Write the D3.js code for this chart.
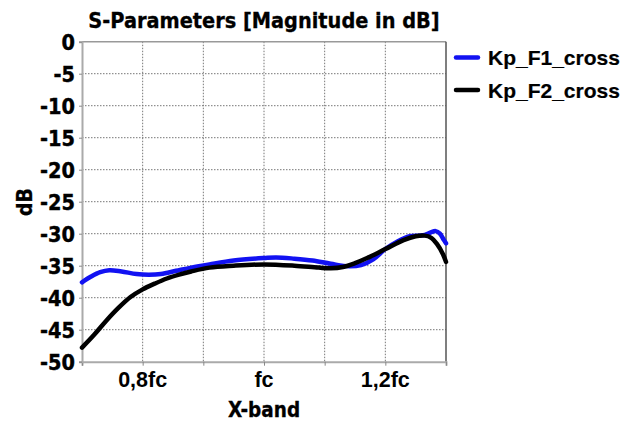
<!DOCTYPE html>
<html><head><meta charset="utf-8">
<script src="https://cdn.jsdelivr.net/npm/d3@7"></script>
<style>body{margin:0;background:#fff}svg{display:block}</style>
</head><body><svg id="c" width="623" height="421"></svg>
<script>
const seriesNames = ["Kp_F1_cross", "Kp_F2_cross"];
const seriesColors = ["#1212f2", "#000000"];
const freqF1 = [0.700,0.715,0.730,0.745,0.765,0.790,0.810,0.830,0.855,0.880,0.910,0.950,1.000,1.020,1.050,1.080,1.110,1.140,1.160,1.180,1.200,1.220,1.240,1.255,1.265,1.275,1.283,1.290,1.296,1.300];
const dbF1   = [-37.6,-36.7,-36.0,-35.7,-35.9,-36.3,-36.4,-36.3,-35.8,-35.3,-34.8,-34.2,-33.8,-33.7,-33.9,-34.2,-34.7,-35.1,-34.9,-34.0,-32.4,-31.2,-30.4,-30.3,-30.2,-29.8,-29.6,-30.0,-30.9,-31.5];
const freqF2 = [0.700,0.720,0.740,0.760,0.780,0.800,0.820,0.840,0.860,0.880,0.910,0.950,1.000,1.050,1.090,1.110,1.130,1.150,1.170,1.200,1.230,1.250,1.265,1.275,1.285,1.295,1.300];
const dbF2   = [-47.8,-45.8,-43.6,-41.6,-39.9,-38.7,-37.8,-37.0,-36.4,-35.9,-35.3,-35.0,-34.8,-35.0,-35.3,-35.4,-35.2,-34.6,-33.8,-32.4,-31.0,-30.4,-30.3,-30.6,-31.6,-33.2,-34.4];
const xTicks = [0.7,0.8,0.9,1.0,1.1,1.2,1.3];
const xTickLabels = {"0.8":"0,8fc","1":"fc","1.2":"1,2fc"};
const yTicks = [0,-5,-10,-15,-20,-25,-30,-35,-40,-45,-50];

const L=82,R=446,T=41.7,B=361.7;
const CF="'DejaVu Sans Condensed','DejaVu Sans'";
const svg=d3.select("#c");
const x=d3.scaleLinear().domain([0.7,1.3]).range([L,R]);
const y=d3.scaleLinear().domain([-50,0]).range([B,T]);

// grid
const g=svg.append("g");
g.selectAll("line.vg").data(xTicks.slice(1,-1)).join("line")
 .attr("x1",d=>x(d)).attr("x2",d=>x(d)).attr("y1",T).attr("y2",B)
 .attr("stroke","#777").attr("stroke-width",1).attr("stroke-dasharray","1.5,1.5");
g.selectAll("line.hg").data(yTicks.slice(1,-1)).join("line")
 .attr("x1",L).attr("x2",R).attr("y1",d=>y(d)).attr("y2",d=>y(d))
 .attr("stroke","#777").attr("stroke-width",1).attr("stroke-dasharray","1.5,1.5");

// frame
svg.append("line").attr("x1",L).attr("x2",R).attr("y1",T).attr("y2",T).attr("stroke","#999").attr("stroke-width",1.5);
svg.append("line").attr("x1",R).attr("x2",R).attr("y1",T).attr("y2",B).attr("stroke","#555").attr("stroke-width",1.5);

// axes
const xAxis=d3.axisBottom(x).tickValues(xTicks).tickSize(4).tickFormat("");
const xa=svg.append("g").attr("transform",`translate(0,${B})`).call(xAxis);
xa.select(".domain").attr("stroke","#aaa").attr("stroke-width",2);
xa.selectAll(".tick line").attr("stroke","#888");
const yAxis=d3.axisLeft(y).tickValues(yTicks).tickSize(3).tickFormat(d=>String(d));
const ya=svg.append("g").attr("transform",`translate(${L},0)`).call(yAxis);
ya.select(".domain").attr("stroke","#aaa").attr("stroke-width",2);
ya.selectAll(".tick line").attr("stroke","#888");
ya.selectAll(".tick text").attr("font-family",CF).attr("font-weight","bold")
  .attr("font-size",21.5).attr("fill","#000").attr("x",-7).attr("dy","0.36em")
  .attr("stroke","#000").attr("stroke-width",0.4);

// x tick labels
svg.append("g").selectAll("text").data(xTicks.filter(d=>xTickLabels[String(d)]))
 .join("text").attr("x",d=>x(d)).attr("y",387).attr("text-anchor","middle")
 .attr("font-family","Liberation Sans").attr("font-weight","bold").attr("font-size",21.5)
 .text(d=>xTickLabels[String(d)]);

// titles
svg.append("text").attr("x",(L+R)/2).attr("y",28).attr("text-anchor","middle")
 .attr("font-family",CF).attr("font-weight","bold").attr("font-size",21.5)
 .attr("stroke","#000").attr("stroke-width",0.3)
 .text("S-Parameters [Magnitude in dB]");
svg.append("text").attr("x",(L+R)/2).attr("y",417).attr("text-anchor","middle")
 .attr("font-family",CF).attr("font-weight","bold").attr("font-size",20.5)
 .attr("stroke","#000").attr("stroke-width",0.3)
 .text("X-band");
svg.append("text").attr("transform","translate(32,202) rotate(-90)").attr("text-anchor","middle")
 .attr("font-family",CF).attr("font-weight","bold").attr("font-size",21)
 .attr("stroke","#000").attr("stroke-width",0.3)
 .text("dB");

// lines
const line=d3.line().x(d=>x(d[0])).y(d=>y(d[1])).curve(d3.curveCatmullRom.alpha(0.5));
const data=[d3.zip(freqF1,dbF1), d3.zip(freqF2,dbF2)];
svg.append("g").selectAll("path").data(data).join("path")
 .attr("d",line).attr("fill","none").attr("stroke",(d,i)=>seriesColors[i])
 .attr("stroke-width",4.5).attr("stroke-linecap","round").attr("stroke-linejoin","round");

// legend
const lg=svg.append("g").selectAll("g").data(seriesNames).join("g")
 .attr("transform",(d,i)=>`translate(456,${57.5+i*32.5})`);
lg.append("line").attr("x1",0).attr("x2",22).attr("stroke",(d,i)=>seriesColors[i]).attr("stroke-width",4.5).attr("stroke-linecap","round");
lg.append("text").attr("x",32).attr("dy","0.36em")
 .attr("font-family","Liberation Sans").attr("font-weight","bold").attr("font-size",21)
 .attr("stroke","#000").attr("stroke-width",0.2)
 .text(d=>d);
</script></body></html>
